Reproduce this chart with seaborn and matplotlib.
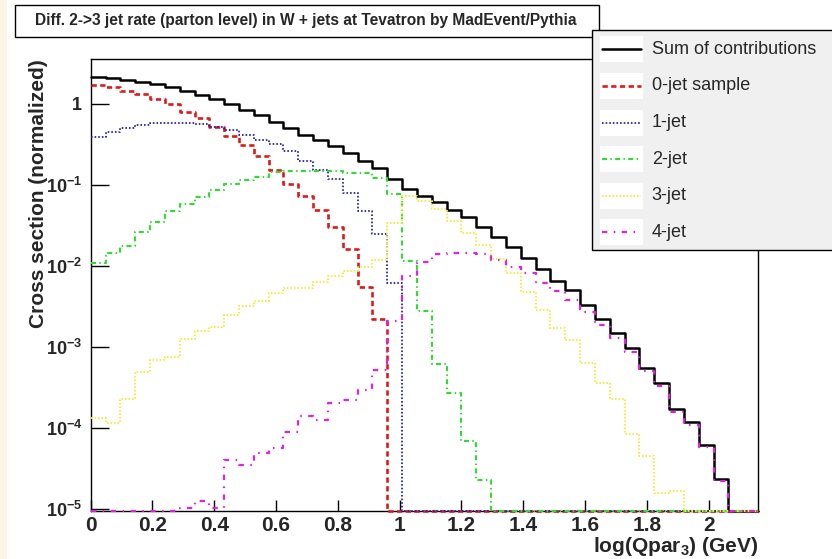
import numpy as np
import pandas as pd
import matplotlib
matplotlib.use("Agg")
import matplotlib.pyplot as plt
import seaborn as sns
from matplotlib.patches import Rectangle
from matplotlib.lines import Line2D
from matplotlib.ticker import LogLocator, NullFormatter, MultipleLocator

# ---------------- data ----------------
n_bins = 45
x_max = 2.16
x_ticks = [0, 0.2, 0.4, 0.6, 0.8, 1.0, 1.2, 1.4, 1.6, 1.8, 2.0]
x_tick_labels = ["0", "0.2", "0.4", "0.6", "0.8", "1", "1.2", "1.4", "1.6", "1.8", "2"]
y_ticks = [1e-5, 1e-4, 1e-3, 1e-2, 1e-1, 1]
y_tick_labels = [r"$\mathbf{10^{-5}}$", r"$\mathbf{10^{-4}}$", r"$\mathbf{10^{-3}}$",
                 r"$\mathbf{10^{-2}}$", r"$\mathbf{10^{-1}}$", "1"]

sum_contrib = [2.13, 2.07, 1.97, 1.88, 1.76, 1.60, 1.46, 1.30, 1.15, 0.99,
               0.845, 0.72, 0.604, 0.50, 0.416, 0.36, 0.303, 0.246, 0.200, 0.161,
               0.117, 0.0886, 0.0737, 0.0622, 0.0492, 0.0400, 0.0306, 0.0230, 0.0171, 0.0127,
               0.0093, 0.00661, 0.00507, 0.00331, 0.00221, 0.00151, 0.000964, 0.000558, 0.000360, 0.000171,
               0.000118, 6.28e-5, 2.34e-5, 0, 0]
jet0 = [1.71, 1.63, 1.44, 1.33, 1.15, 0.996, 0.80, 0.663, 0.518, 0.404,
        0.311, 0.225, 0.151, 0.102, 0.074, 0.049, 0.0305, 0.0163, 0.0055, 0.0022,
        0, 0, 0, 0, 0, 0, 0, 0, 0, 0,
        0, 0, 0, 0, 0, 0, 0, 0, 0, 0,
        0, 0, 0, 0, 0]
jet1 = [0.394, 0.455, 0.50, 0.55, 0.574, 0.588, 0.588, 0.56, 0.524, 0.476,
        0.414, 0.359, 0.32, 0.259, 0.198, 0.153, 0.118, 0.079, 0.048, 0.025,
        0.0062, 0, 0, 0, 0, 0, 0, 0, 0, 0,
        0, 0, 0, 0, 0, 0, 0, 0, 0, 0,
        0, 0, 0, 0, 0]
jet2 = [0.0108, 0.0143, 0.0176, 0.0265, 0.0352, 0.0481, 0.0581, 0.0715, 0.0863, 0.102,
        0.115, 0.127, 0.146, 0.148, 0.148, 0.150, 0.147, 0.141, 0.139, 0.123,
        0.0768, 0.0115, 0.00277, 0.000625, 0.000272, 6.9e-5, 2.31e-5, 0, 0, 0,
        0, 0, 0, 0, 0, 0, 0, 0, 0, 0,
        0, 0, 0, 0, 0]
jet3 = [1.33e-4, 1.15e-4, 2.32e-4, 4.99e-4, 6.95e-4, 7.5e-4, 1.26e-3, 1.6e-3, 1.79e-3, 2.46e-3,
        3.21e-3, 3.74e-3, 4.6e-3, 5.3e-3, 5.3e-3, 6.4e-3, 7.5e-3, 8.6e-3, 9.8e-3, 0.0120,
        0.0341, 0.0728, 0.063, 0.0499, 0.0357, 0.0257, 0.0180, 0.0123, 8.2e-3, 4.8e-3,
        2.87e-3, 1.70e-3, 1.24e-3, 6.4e-4, 3.6e-4, 2.27e-4, 8.6e-5, 4.5e-5, 1.6e-5, 1.7e-5,
        0, 0, 0, 0, 0]
jet4 = [0, 0, 0, 0, 0, 0, 1.05e-5, 1.25e-5, 1.03e-5, 4.07e-5,
        3.52e-5, 4.9e-5, 5.67e-5, 9.1e-5, 1.42e-4, 1.27e-4, 2.05e-4, 2.25e-4, 2.99e-4, 5.27e-4,
        2.08e-3, 7.6e-3, 0.01115, 0.0139, 0.0146, 0.0146, 0.0139, 0.0118, 9.77e-3, 8.25e-3,
        6.2e-3, 4.98e-3, 3.76e-3, 2.73e-3, 1.88e-3, 1.28e-3, 8.8e-4, 5.1e-4, 3.3e-4, 1.6e-4,
        1.11e-4, 5.9e-5, 2.25e-5, 0, 0]

labels = ["Sum of contributions", "0-jet sample", "1-jet", "2-jet", "3-jet", "4-jet"]
title = "Diff. 2->3 jet rate (parton level) in W + jets at Tevatron by MadEvent/Pythia"

# ---------------- style ----------------
sns.set_style("white")
plt.rcParams["font.family"] = ["Liberation Sans", "DejaVu Sans"]
plt.rcParams["mathtext.fontset"] = "custom"
plt.rcParams["mathtext.rm"] = "Liberation Sans"
plt.rcParams["mathtext.bf"] = "Liberation Sans:bold"
plt.rcParams["mathtext.it"] = "Liberation Sans:italic"

colors = ["#000000", "#dd1a1a", "#2222a8", "#2ede2e", "#f0f03a", "#de22de"]
widths = [1.8, 1.9, 1.3, 1.5, 1.4, 1.6]
styles = ["-", (0, (2.0, 1.3)), (0, (0.9, 1.1)), (0, (2.4, 1.6, 0.7, 1.6)),
          (0, (0.8, 1.0)), (0, (2.4, 2.9, 0.7, 2.9))]

W, H = 832, 559
def fx(px):
    return px / W
def fy(py):
    return 1 - py / H

y_min, y_max = 9.6e-6, 3.55
edges = np.linspace(0, x_max, n_bins + 1)

fig = plt.figure(figsize=(W / 100, H / 100), dpi=100)
fig.patch.set_facecolor("white")
fig.add_artist(Rectangle((0, 0), fx(7), 1, transform=fig.transFigure,
                         facecolor="#fcf5e3", edgecolor="none", zorder=-5))

ax = fig.add_axes([fx(90.7), fy(510.7), fx(758) - fx(90.7), fy(59.3) - fy(510.7)])
ax.set_yscale("log")

all_series = [sum_contrib, jet0, jet1, jet2, jet3, jet4]
for vals, col, lw, ls in zip(all_series, colors, widths, styles):
    v = np.asarray(vals, dtype=float)
    v = np.where(v > 0, v, y_min)          # empty bins drawn on the axis floor, as ROOT does
    df = pd.DataFrame({"edge": edges, "value": np.append(v, v[-1])})
    sns.lineplot(data=df, x="edge", y="value", drawstyle="steps-post", estimator=None,
                 sort=False, errorbar=None, color=col, linewidth=lw, linestyle=ls,
                 ax=ax, zorder=3, clip_on=False)

ax.set_xlim(0, x_max)
ax.set_ylim(y_min, y_max)

for s in ax.spines.values():
    s.set_visible(True)
    s.set_color("black")
    s.set_linewidth(1.0)

ax.set_xticks(x_ticks, labels=x_tick_labels, fontweight="bold")
ax.xaxis.set_minor_locator(MultipleLocator(0.05))
ax.set_yticks(y_ticks, labels=y_tick_labels, fontweight="bold")
ax.yaxis.set_minor_locator(LogLocator(base=10, subs=np.arange(2, 10)))
ax.yaxis.set_minor_formatter(NullFormatter())

ax.tick_params(axis="x", which="major", direction="in", length=8, width=1,
               pad=4, labelsize=15, top=False, bottom=True, color="black")
ax.tick_params(axis="x", which="minor", direction="in", length=4, width=1, top=False)
ax.tick_params(axis="y", which="major", direction="in", length=13, width=1,
               pad=6, labelsize=13, right=False, left=True, color="black")
ax.tick_params(axis="y", which="minor", direction="in", length=6.5, width=1, right=False)

ax.set_ylabel("Cross section (normalized)", fontsize=15, fontweight="bold", loc="top")
ax.yaxis.set_label_coords((48 - 90.7) / (758 - 90.7), 1.0)
ax.set_xlabel(r"log(Qpar$_{\mathbf{3}}$) (GeV)", fontsize=15, fontweight="bold", loc="right")
ax.xaxis.set_label_coords(1.0, (510.7 - 534.5) / (510.7 - 59.3))

# title box
fig.add_artist(Rectangle((fx(15), fy(36.7)), fx(599) - fx(15), fy(5) - fy(36.7),
                         transform=fig.transFigure, facecolor="white",
                         edgecolor="black", linewidth=1.0, zorder=5))
fig.text(fx(35), fy(21), title, fontsize=11.2, fontweight="bold",
         ha="left", va="center", zorder=6)

# legend box
fig.add_artist(Rectangle((fx(591.7), fy(250)), fx(845) - fx(591.7), fy(30) - fy(250),
                         transform=fig.transFigure, facecolor="#f0f0f0",
                         edgecolor="black", linewidth=1.0, zorder=7))
for i, (lab, col, lw, ls) in enumerate(zip(labels, colors, widths, styles)):
    yc = 49.3 + 36.6 * i
    fig.add_artist(Rectangle((fx(600), fy(yc + 13)), fx(643) - fx(600), fy(yc - 13) - fy(yc + 13),
                             transform=fig.transFigure, facecolor="white",
                             edgecolor="none", zorder=8))
    fig.add_artist(Line2D([fx(602), fx(641)], [fy(yc), fy(yc)], transform=fig.transFigure,
                          color=col, linewidth=lw, linestyle=ls, zorder=9))
    fig.text(fx(651.7), fy(yc), lab, fontsize=13, ha="left", va="center", zorder=9)

fig.savefig("out.png", dpi=100)
